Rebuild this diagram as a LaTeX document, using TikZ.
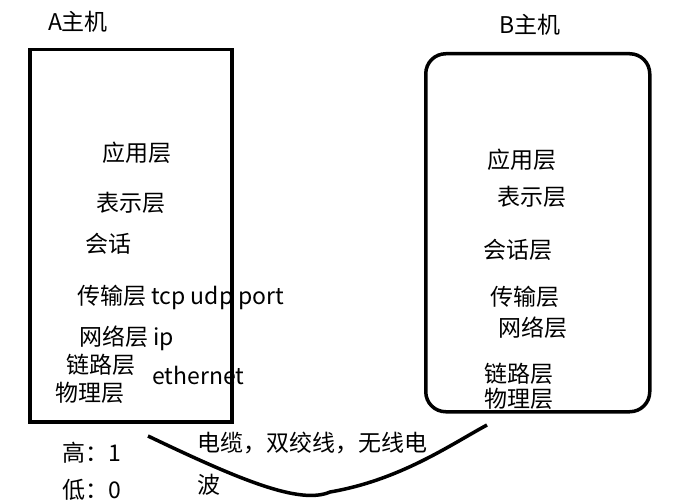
\documentclass[tikz,border=0pt]{standalone}
\usepackage{fontspec}
\setmainfont{Noto Sans CJK SC}
\begin{document}
\begin{tikzpicture}[x=1pt,y=-1pt,every node/.style={font=\fontsize{23}{26}\selectfont,inner sep=0pt},lbl/.style={anchor=west},box/.style={draw,line width=3.5pt}]
\useasboundingbox (0,0) rectangle (687,503);
\node[box,minimum width=202pt,minimum height=372pt,anchor=north west] (A) at (28,48) {};
\node[box,rounded corners=20pt,minimum width=224pt,minimum height=358pt,anchor=north west] (B) at (424,52) {};
\node (ta) at (78,22) {A主机};
\node (tb) at (530,25) {B主机};
\node[lbl] (a1) at (102,153) {应用层};
\node[lbl] (a2) at (96,203) {表示层};
\node[lbl] (a3) at (85,244) {会话};
\node[lbl] (a4) at (77,297) {传输层 tcp udp port};
\node[lbl] (a5) at (79,338) {网络层 ip};
\node[lbl] (a6) at (66,365) {链路层};
\node[lbl] (a7) at (152,375) {ethernet};
\node[lbl] (a8) at (55,393) {物理层};
\node[lbl] (b1) at (487,160) {应用层};
\node[lbl] (b2) at (497,197) {表示层};
\node[lbl] (b3) at (483,250) {会话层};
\node[lbl] (b4) at (490,297) {传输层};
\node[lbl] (b5) at (498,328) {网络层};
\node[lbl] (b6) at (484,374) {链路层};
\node[lbl] (b7) at (484,399) {物理层};
\node[lbl] (h) at (62,453) {高：1};
\node[lbl] (l) at (62,490) {低：0};
\node[lbl] (c1) at (197,443) {电缆，双绞线，无线电};
\node[lbl] (c2) at (197,485) {波};
\coordinate (s) at (148,436);
\coordinate (e) at (487,425);
\draw[line width=3.5pt] (s) .. controls (240,480) and (300,505) .. (330,492) .. controls (400,480) and (450,445) .. (e);
\end{tikzpicture}
\end{document}
